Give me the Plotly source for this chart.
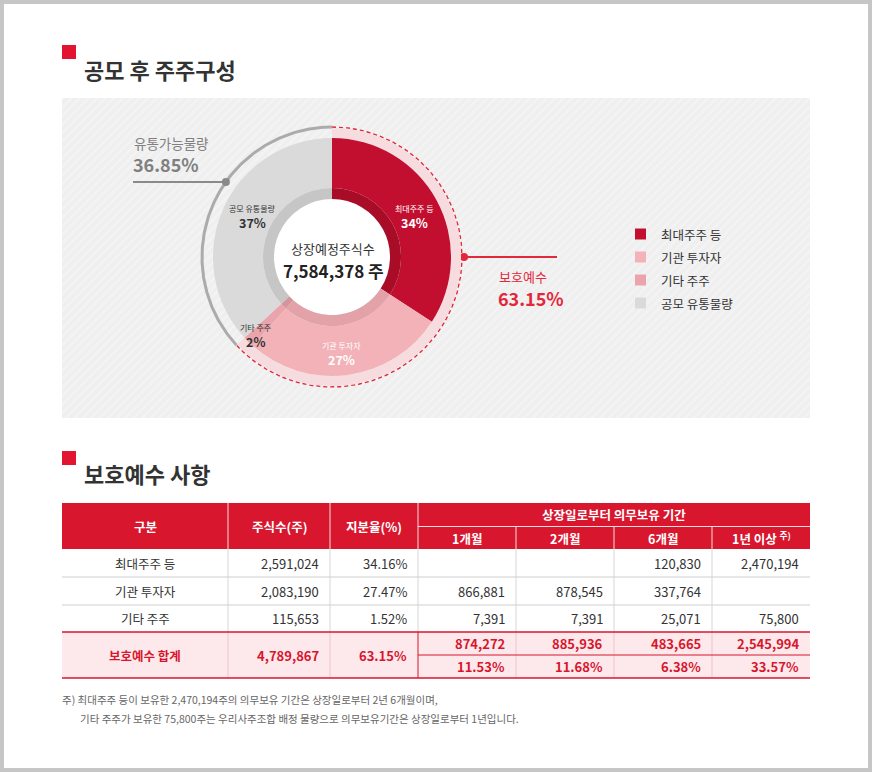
import math
import plotly.graph_objects as go

# ---------------- data ----------------
pie_labels = ["최대주주 등", "기관 투자자", "기타 주주", "공모 유통물량"]
pie_values = [34.16, 27.47, 1.52, 36.85]
pie_pct_text = ["34%", "27%", "2%", "37%"]
total_listed = "7,584,378"
protected_pct = 63.15
float_pct = 36.85

row_labels = ["최대주주 등", "기관 투자자", "기타 주주"]
shares = ["2,591,024", "2,083,190", "115,653"]
ratios = ["34.16%", "27.47%", "1.52%"]
m1 = ["", "866,881", "7,391"]
m2 = ["", "878,545", "7,391"]
m6 = ["120,830", "337,764", "25,071"]
y1 = ["2,470,194", "", "75,800"]
total_label = "보호예수 합계"
total_shares = "4,789,867"
total_ratio = "63.15%"
total_counts = ["874,272", "885,936", "483,665", "2,545,994"]
total_pcts = ["11.53%", "11.68%", "6.38%", "33.57%"]
head_main = ["구분", "주식수(주)", "지분율(%)"]
head_group = "상장일로부터 의무보유 기간"
head_periods = ["1개월", "2개월", "6개월", "1년 이상 <sup>주)</sup>"]
footnotes = ["주) 최대주주 등이 보유한 2,470,194주의 의무보유 기간은 상장일로부터 2년 6개월이며,",
             "기타 주주가 보유한 75,800주는 우리사주조합 배정 물량으로 의무보유기간은 상장일로부터 1년입니다."]

# ---------------- style / layout ----------------
W, H = 872, 772
FONT = "Noto Sans CJK KR"
RED = "#d7162e"
C_MAIN = ["#c20f2f", "#f2b2b8", "#e9a4ac", "#dadada"]
C_INNER = ["#a90c27", "#e3a1a8", "#d6959d", "#c6c6c6"]
CX, CY = 332, 257
R_OUT, R_RING, R_IN, R_HOLE, R_ARC = 119, 69, 58, 58, 130
PANEL = (62, 98, 810, 418)

fig = go.Figure()
shapes = []
ann = []


def T(x, y, s, size, color="#333", bold=False, xa="center", ya="middle"):
    ann.append(dict(x=x, y=y, xref="x", yref="y", text=(f"<b>{s}</b>" if bold else s),
                    showarrow=False, xanchor=xa, yanchor=ya, borderpad=0,
                    font=dict(family=FONT, size=size, color=color)))


def rect(x0, y0, x1, y1, fill, line=None, lw=0):
    shapes.append(dict(type="rect", xref="x", yref="y", x0=x0, y0=y0, x1=x1, y1=y1,
                       fillcolor=fill, line=dict(width=lw, color=line or fill), layer="below"))


def hline(x0, x1, y, color, w=1):
    shapes.append(dict(type="line", xref="x", yref="y", x0=x0, x1=x1, y0=y, y1=y,
                       line=dict(color=color, width=w), layer="above"))


def vline(x, y0, y1, color, w=1):
    shapes.append(dict(type="line", xref="x", yref="y", x0=x, x1=x, y0=y0, y1=y1,
                       line=dict(color=color, width=w), layer="above"))


# frame
rect(4, 4, W - 4, H - 4, "white")

# textured panel background
px0, py0, px1, py1 = PANEL
fig.add_trace(go.Scatter(x=[px0, px1, px1, px0, px0], y=[py0, py0, py1, py1, py0], mode="lines",
                         fill="toself", line=dict(width=0), fillcolor="#efefef",
                         fillpattern=dict(shape="/", bgcolor="#efefef", fgcolor="#f9f9f9", size=6, solidity=0.35),
                         hoverinfo="skip", showlegend=False))
# white centre disc
th = [i / 120 * 2 * math.pi for i in range(121)]
fig.add_trace(go.Scatter(x=[CX + R_HOLE * math.cos(t) for t in th], y=[CY + R_HOLE * math.sin(t) for t in th],
                         mode="lines", fill="toself", fillcolor="white", line=dict(width=0),
                         hoverinfo="skip", showlegend=False))

# section titles
rect(62, 45, 76, 59, "#e3142f")
T(83, 69, "공모 후 주주구성", 22, "#333", True, "left")
rect(62, 451, 76, 465, "#e3142f")
T(83, 473, "보호예수 사항", 22, "#333", True, "left")


def dom(r):
    return dict(x=[(CX - r) / W, (CX + r) / W], y=[(H - CY - r) / H, (H - CY + r) / H])


# outer protected band
fig.add_trace(go.Pie(values=[protected_pct, float_pct], sort=False, direction="clockwise", rotation=0,
                     hole=(R_OUT) / (R_ARC - 1), domain=dom(R_ARC - 1), textinfo="none", hoverinfo="skip",
                     marker=dict(colors=["#f6dcdf", "rgba(0,0,0,0)"], line=dict(width=0)), showlegend=False))
# main donut
fig.add_trace(go.Pie(values=pie_values, labels=pie_labels, sort=False, direction="clockwise", rotation=0,
                     hole=R_RING / R_OUT, domain=dom(R_OUT), textinfo="none", hoverinfo="skip",
                     marker=dict(colors=C_MAIN, line=dict(width=0)), showlegend=False))
# inner darker band
fig.add_trace(go.Pie(values=pie_values, labels=pie_labels, sort=False, direction="clockwise", rotation=0,
                     hole=R_IN / R_RING, domain=dom(R_RING), textinfo="none", hoverinfo="skip",
                     marker=dict(colors=C_INNER, line=dict(width=0)), showlegend=False))


def polar(deg, r):
    a = math.radians(deg)
    return CX + r * math.sin(a), CY - r * math.cos(a)


# arcs derived from the protected / float shares
prot_deg = protected_pct / 100 * 360
n = 200
pts = [polar(prot_deg * i / n, R_ARC) for i in range(n + 1)]
fig.add_trace(go.Scatter(x=[p[0] for p in pts], y=[p[1] for p in pts], mode="lines",
                         line=dict(color="#e3283c", width=1.4, dash="4px,3px"), hoverinfo="skip", showlegend=False))
pts = [polar(prot_deg + (360 - prot_deg) * i / n, R_ARC) for i in range(n + 1)]
fig.add_trace(go.Scatter(x=[p[0] for p in pts], y=[p[1] for p in pts], mode="lines",
                         line=dict(color="#ababab", width=3), hoverinfo="skip", showlegend=False))

# callouts
gx, gy = polar(305.3, R_ARC)
fig.add_trace(go.Scatter(x=[133, gx], y=[gy, gy], mode="lines", line=dict(color="#8a8a8a", width=2),
                         hoverinfo="skip", showlegend=False))
fig.add_trace(go.Scatter(x=[gx], y=[gy], mode="markers", marker=dict(color="#8a8a8a", size=8),
                         hoverinfo="skip", showlegend=False))
rx, ry = polar(90, R_ARC + 2)
fig.add_trace(go.Scatter(x=[rx, 557], y=[ry, ry], mode="lines", line=dict(color="#e3283c", width=2),
                         hoverinfo="skip", showlegend=False))
fig.add_trace(go.Scatter(x=[rx], y=[ry], mode="markers", marker=dict(color="#e3283c", size=8),
                         hoverinfo="skip", showlegend=False))
T(133, 143, "유통가능물량", 13.5, "#808080", False, "left")
T(132, 164, f"{float_pct:.2f}%", 18, "#808080", True, "left")
T(498, 276, "보호예수", 13, "#e3283c", False, "left")
T(497, 298, f"{protected_pct:.2f}%", 18, "#e3283c", True, "left")

# center text
T(333, 248, "상장예정주식수", 13, "#333")
T(333, 270, f"{total_listed} 주", 17, "#222", True)

# wedge labels
lab_r = [92, 96, 109, 90]
lab_da = [2, 2, 0, 4]
cum = 0
for i, v in enumerate(pie_values):
    mid = (cum + v / 2) / 100 * 360 + lab_da[i]
    cum += v
    lx, ly = polar(mid, lab_r[i])
    col = "white" if i < 2 else "#333"
    T(lx, ly - 7, pie_labels[i], 8, col)
    T(lx, ly + 7, pie_pct_text[i], 12.5, col, True)

# legend
for i, lab in enumerate(pie_labels):
    yy = 234 + i * 23
    shapes.append(dict(type="rect", xref="x", yref="y", x0=635, x1=646, y0=yy - 5.5, y1=yy + 5.5,
                       fillcolor=C_MAIN[i], line=dict(width=0), layer="above"))
    T(660, yy, lab, 12.5, "#333", False, "left")

# ---------------- table ----------------
xe = [62, 228, 330, 418, 516, 614, 712, 810]
yh0, yhm, yh1 = 503, 526.5, 549
yrows = [549, 577, 605, 632]
yt0, ytm, yt1 = 632, 655, 678

rect(xe[0], yh0, xe[-1], yh1, "#d8172f")
rect(xe[0], yt0, xe[-1], yt1, "#fde9eb")
HW = "rgba(255,255,255,0.85)"
for x in xe[1:4]:
    vline(x, yh0, yh1, HW)
for x in xe[4:7]:
    vline(x, yhm, yh1, HW)
hline(xe[3], xe[-1], yhm, HW)

for j, h in enumerate(head_main):
    T((xe[j] + xe[j + 1]) / 2, (yh0 + yh1) / 2, h, 12.5, "white", True)
T((xe[3] + xe[-1]) / 2, (yh0 + yhm) / 2, head_group, 12.5, "white", True)
for j, h in enumerate(head_periods):
    T((xe[3 + j] + xe[4 + j]) / 2, (yhm + yh1) / 2 + 1, h, 12.5, "white", True)

# data rows
for r in range(3):
    if r > 0:
        hline(xe[0], xe[-1], yrows[r], "#cfcfcf")
    for x in xe[1:-1]:
        vline(x, yrows[r], yrows[r + 1], "#d6d6d6")
    yc = (yrows[r] + yrows[r + 1]) / 2
    T((xe[0] + xe[1]) / 2, yc, row_labels[r], 12.5, "#333")
    cols = [shares, ratios, m1, m2, m6, y1]
    for j, col in enumerate(cols):
        if col[r]:
            T(xe[j + 2] - 10, yc, col[r], 13, "#333", False, "right")

# total row
for x in xe[1:3] + xe[4:7]:
    vline(x, yt0, yt1, "#efc3c8")
vline(xe[3], yt0, yt1, RED)
hline(xe[3], xe[-1], ytm, RED)
hline(xe[0], xe[-1], yt0, RED, 1.5)
hline(xe[0], xe[-1], yt1, RED, 1.5)
T((xe[0] + xe[1]) / 2, ytm, total_label, 12.5, RED, True)
T(xe[2] - 10, ytm, total_shares, 13, RED, True, "right")
T(xe[3] - 10, ytm, total_ratio, 13, RED, True, "right")
for j in range(4):
    T(xe[4 + j] - 10, (yt0 + ytm) / 2, total_counts[j], 13, RED, True, "right")
    T(xe[4 + j] - 10, (ytm + yt1) / 2, total_pcts[j], 13, RED, True, "right")

# footnotes
T(61, 699, footnotes[0], 10.5, "#666", False, "left")
T(79, 718, footnotes[1], 10.5, "#666", False, "left")

fig.update_layout(
    width=W, height=H, margin=dict(l=0, r=0, t=0, b=0),
    paper_bgcolor="#c6c6c6", plot_bgcolor="rgba(0,0,0,0)",
    xaxis=dict(range=[0, W], visible=False, fixedrange=True, domain=[0, 1]),
    yaxis=dict(range=[H, 0], visible=False, fixedrange=True, domain=[0, 1]),
    shapes=shapes, annotations=ann, showlegend=False,
    font=dict(family=FONT),
)
fig.write_html("out.html", config={"displayModeBar": False},
               post_script="document.body.style.margin='0';document.body.style.overflow='hidden';")
